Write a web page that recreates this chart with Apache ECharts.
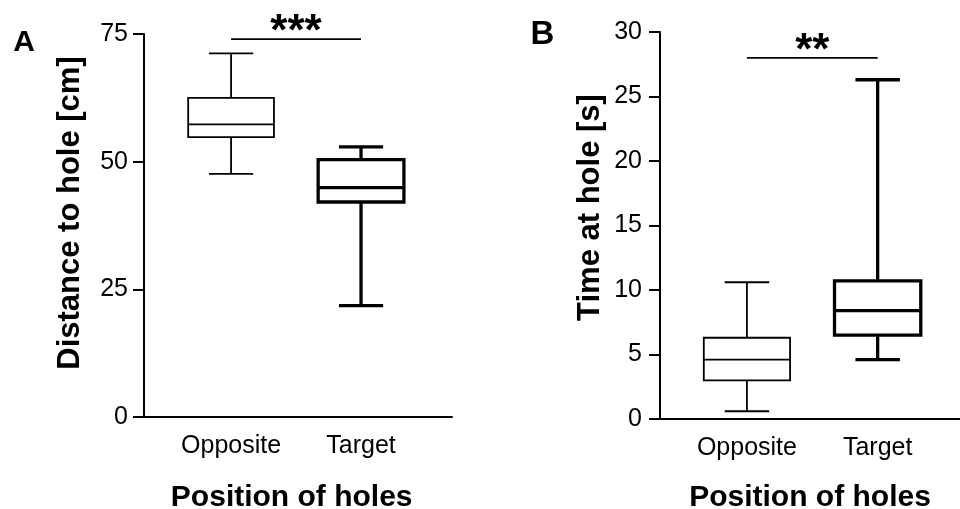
<!DOCTYPE html>
<html>
<head>
<meta charset="utf-8">
<script src="https://cdn.jsdelivr.net/npm/echarts@6/dist/echarts.min.js"></script>
<style>
  html, body { margin: 0; padding: 0; background: #fff; }
  #chart { width: 960px; height: 509px; }
</style>
</head>
<body>
<div id="chart"></div>
<script>
// Hole positions compared in both panels
const categories = ['Opposite', 'Target'];

// Five-number summaries per group: [min, Q1, median, Q3, max]
const distanceOpposite = [47.6, 54.8, 57.3, 62.5, 71.2];
const distanceTarget = [21.8, 42.1, 44.9, 50.4, 52.9];
const timeOpposite = [0.6, 3.0, 4.6, 6.3, 10.6];
const timeTarget = [4.6, 6.5, 8.4, 10.7, 26.3];

// Value-axis tick labels
const distanceTicks = [0, 25, 50, 75];
const timeTicks = [0, 5, 10, 15, 20, 25, 30];

// Significance brackets: [from group, to group, bracket height]
const distanceBracket = [1, 2, 74.0];
const timeBracket = [1, 2, 28.0];
const distanceStars = '***';
const timeStars = '**';

const FONT = "'Liberation Sans', Arial, Helvetica, sans-serif";
const BOX_WIDTH = 0.66;   // box width in group units
const CAP_WIDTH = 0.34;   // whisker cap width in group units
const GROUP_LINE_WIDTHS = [1.8, 3.3];

function boxRows(stats) {
  return stats.map((s, i) => [i + 1].concat(s));
}

function renderBox(params, api) {
  const x = api.value(0);
  const w = api.size([BOX_WIDTH, 0])[0];
  const cw = api.size([CAP_WIDTH, 0])[0];
  const pMin = api.coord([x, api.value(1)]);
  const pQ1 = api.coord([x, api.value(2)]);
  const pMed = api.coord([x, api.value(3)]);
  const pQ3 = api.coord([x, api.value(4)]);
  const pMax = api.coord([x, api.value(5)]);
  const cx = pMin[0];
  const lw = GROUP_LINE_WIDTHS[params.dataIndex];
  const st = () => ({ stroke: '#000', lineWidth: lw, fill: null });
  return {
    type: 'group',
    children: [
      { type: 'line', shape: { x1: cx, y1: pMax[1], x2: cx, y2: pQ3[1] }, style: st() },
      { type: 'line', shape: { x1: cx, y1: pQ1[1], x2: cx, y2: pMin[1] }, style: st() },
      { type: 'line', shape: { x1: cx - cw / 2, y1: pMax[1], x2: cx + cw / 2, y2: pMax[1] }, style: st() },
      { type: 'line', shape: { x1: cx - cw / 2, y1: pMin[1], x2: cx + cw / 2, y2: pMin[1] }, style: st() },
      { type: 'rect', shape: { x: cx - w / 2, y: pQ3[1], width: w, height: pQ1[1] - pQ3[1] },
        style: { stroke: '#000', lineWidth: lw, fill: '#fff' } },
      { type: 'line', shape: { x1: cx - w / 2, y1: pMed[1], x2: cx + w / 2, y2: pMed[1] }, style: st() }
    ]
  };
}

function bracketRenderer(stars) {
  return function (params, api) {
    const a = api.coord([api.value(0), api.value(2)]);
    const b = api.coord([api.value(1), api.value(2)]);
    return {
      type: 'group',
      children: [
        { type: 'line', shape: { x1: a[0], y1: a[1], x2: b[0], y2: b[1] },
          style: { stroke: '#000', lineWidth: 1.7 } },
        { type: 'text', x: (a[0] + b[0]) / 2, y: a[1] - 6,
          style: { text: stars, fill: '#000', font: 'bold 44px ' + FONT,
                   align: 'center', verticalAlign: 'middle' } }
      ]
    };
  };
}

function valueAxis(gridIndex, ticks, labelMargin) {
  return {
    type: 'value', gridIndex,
    min: ticks[0], max: ticks[ticks.length - 1], interval: ticks[1] - ticks[0],
    axisLine: { show: true, onZero: false, lineStyle: { color: '#000', width: 2 } },
    axisTick: { show: true, length: 11, lineStyle: { color: '#000', width: 2 } },
    axisLabel: { color: '#000', fontSize: 25, fontFamily: FONT, margin: labelMargin },
    splitLine: { show: false }
  };
}

function groupAxis(gridIndex, min, max) {
  return {
    type: 'value', gridIndex, min, max,
    axisLine: { show: true, onZero: false, lineStyle: { color: '#000', width: 2 } },
    axisTick: { show: false },
    splitLine: { show: false },
    axisLabel: {
      color: '#000', fontSize: 25, fontFamily: FONT, margin: 17,
      customValues: categories.map((c, i) => i + 1),
      formatter: v => categories[Math.round(v) - 1] || ''
    }
  };
}

const chart = echarts.init(document.getElementById('chart'), null, { renderer: 'canvas' });

chart.setOption({
  backgroundColor: '#fff',
  animation: false,
  grid: [
    { left: 144, top: 34, width: 308, height: 383 },
    { left: 660, top: 32, width: 300, height: 387 }
  ],
  xAxis: [groupAxis(0, 0.33, 2.7), groupAxis(1, 0.335, 2.63)],
  yAxis: [valueAxis(0, distanceTicks, 16), valueAxis(1, timeTicks, 18)],
  series: [
    { type: 'custom', xAxisIndex: 0, yAxisIndex: 0, clip: false,
      encode: { x: 0, y: [1, 2, 3, 4, 5] },
      data: boxRows([distanceOpposite, distanceTarget]), renderItem: renderBox },
    { type: 'custom', xAxisIndex: 1, yAxisIndex: 1, clip: false,
      encode: { x: 0, y: [1, 2, 3, 4, 5] },
      data: boxRows([timeOpposite, timeTarget]), renderItem: renderBox },
    { type: 'custom', xAxisIndex: 0, yAxisIndex: 0, clip: false,
      encode: { x: [0, 1], y: 2 },
      data: [distanceBracket], renderItem: bracketRenderer(distanceStars) },
    { type: 'custom', xAxisIndex: 1, yAxisIndex: 1, clip: false,
      encode: { x: [0, 1], y: 2 },
      data: [timeBracket], renderItem: bracketRenderer(timeStars) }
  ],
  graphic: [
    { type: 'text', x: 24, y: 42.6,
      style: { text: 'A', fill: '#000', font: 'bold 30px ' + FONT, align: 'center', verticalAlign: 'middle' } },
    { type: 'text', x: 542.5, y: 35.3,
      style: { text: 'B', fill: '#000', font: 'bold 33px ' + FONT, align: 'center', verticalAlign: 'middle' } },
    { type: 'text', x: 70, y: 213, rotation: Math.PI / 2,
      style: { text: 'Distance to hole [cm]', fill: '#000', font: 'bold 31px ' + FONT, align: 'center', verticalAlign: 'middle' } },
    { type: 'text', x: 590, y: 207.5, rotation: Math.PI / 2,
      style: { text: 'Time at hole [s]', fill: '#000', font: 'bold 31px ' + FONT, align: 'center', verticalAlign: 'middle' } },
    { type: 'text', x: 291.7, y: 497.8,
      style: { text: 'Position of holes', fill: '#000', font: 'bold 30px ' + FONT, align: 'center', verticalAlign: 'middle' } },
    { type: 'text', x: 810, y: 497.8,
      style: { text: 'Position of holes', fill: '#000', font: 'bold 30px ' + FONT, align: 'center', verticalAlign: 'middle' } }
  ]
});
</script>
</body>
</html>
